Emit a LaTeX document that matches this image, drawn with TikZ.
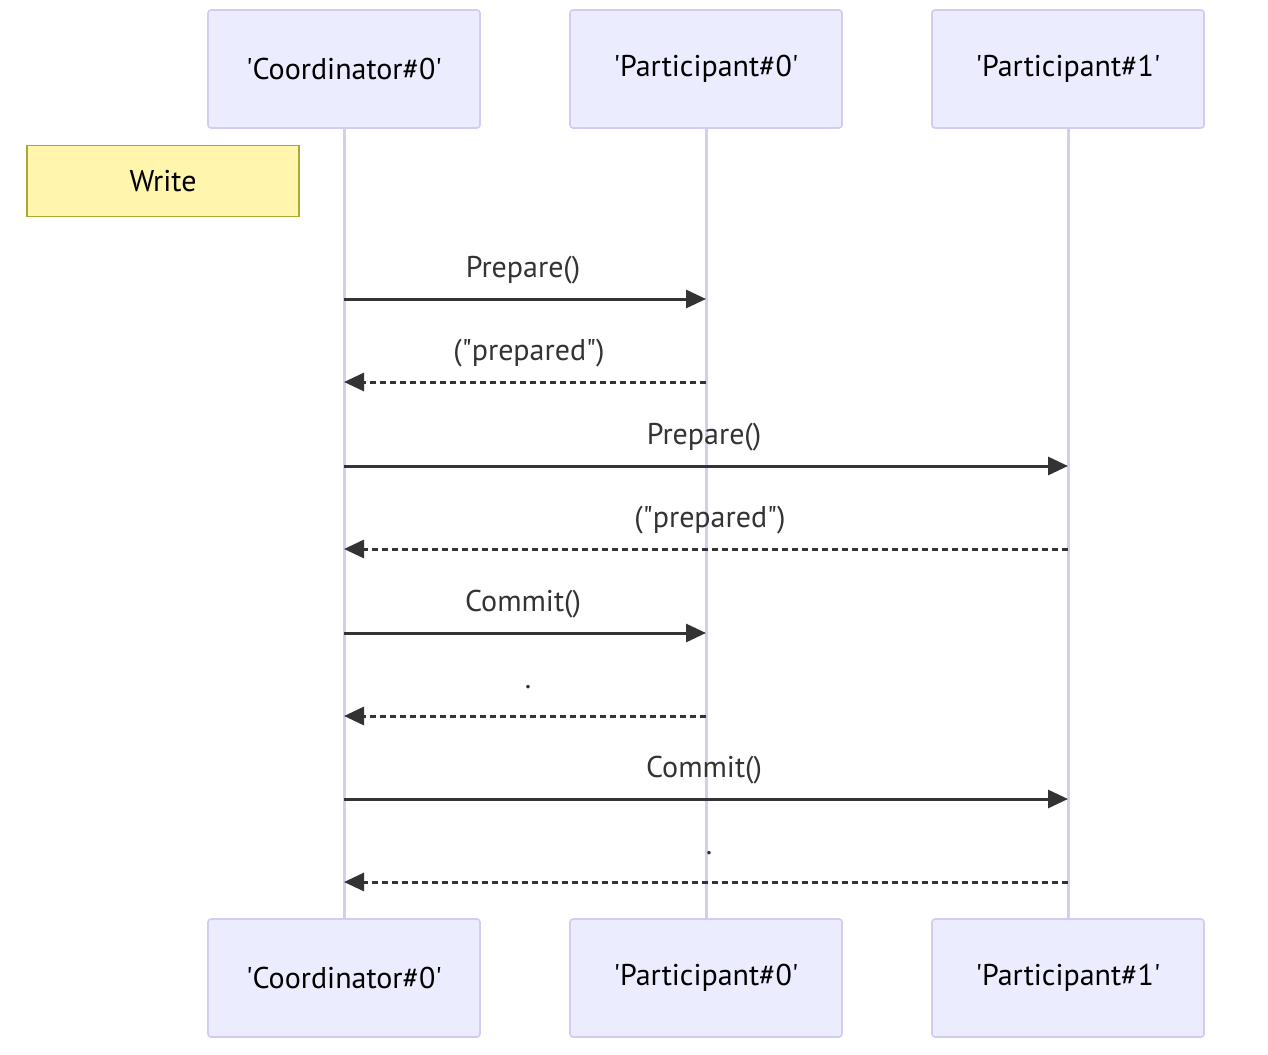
\documentclass[tikz,border=0pt]{standalone}
\usepackage{fontspec}
\setmainfont{PT Sans}
\usetikzlibrary{arrows.meta}
\definecolor{actorfill}{HTML}{ECECFF}
\definecolor{actorline}{HTML}{D3CBF0}
\definecolor{lifeline}{HTML}{D6CCF2}
\definecolor{notefill}{HTML}{FFF5AD}
\definecolor{noteline}{HTML}{AAAA33}
\definecolor{msgcol}{HTML}{333333}
\newcommand{\sq}{\textquotesingle}
\newcommand{\dq}{\textquotedbl}
\begin{document}
\begin{tikzpicture}[x=1pt,y=-1pt,
  txt/.style={font=\fontsize{30}{36}\selectfont},
  actor/.style={txt,draw=actorline,line width=1.6pt,fill=actorfill,rounded corners=3pt,
    minimum width=272pt,minimum height=118pt,inner sep=0pt},
  note/.style={txt,draw=noteline,line width=1.2pt,fill=notefill,
    minimum width=272pt,minimum height=71pt,inner sep=0pt},
  life/.style={draw=lifeline,line width=3pt},
  msg/.style={draw=msgcol,line width=3pt,-{Triangle[length=20pt,width=18pt]}},
  reply/.style={msg,dash pattern=on 6pt off 4pt},
  lbl/.style={txt,text=msgcol,inner sep=0pt}]
\useasboundingbox (0,0) rectangle (1268,1054);
% actors, top and bottom
\node[actor] (c0t) at (344,69) {\sq Coordinator\#0\sq};
\node[actor] (p0t) at (706,69) {\sq Participant\#0\sq};
\node[actor] (p1t) at (1068,69) {\sq Participant\#1\sq};
\node[actor] (c0b) at (344,978) {\sq Coordinator\#0\sq};
\node[actor] (p0b) at (706,978) {\sq Participant\#0\sq};
\node[actor] (p1b) at (1068,978) {\sq Participant\#1\sq};
% lifelines
\draw[life] (c0t.south) -- (c0b.north);
\draw[life] (p0t.south) -- (p0b.north);
\draw[life] (p1t.south) -- (p1b.north);
% note
\node[note] (w) at (163,181) {Write};
% message anchors on the lifelines
\foreach \n/\y in {1/299,2/382,3/466,4/549,5/633,6/716,7/799,8/882}{
  \coordinate (c\n) at (344,\y);
  \coordinate (p\n) at (706,\y);
  \coordinate (q\n) at (1068,\y);
}
\draw[msg] (c1) -- (p1);
\node[lbl] (l1) at (523,270) {Prepare()};
\draw[reply] (p2) -- (c2);
\node[lbl] (l2) at (529,353) {(\dq prepared\dq)};
\draw[msg] (c3) -- (q3);
\node[lbl] (l3) at (704,437) {Prepare()};
\draw[reply] (q4) -- (c4);
\node[lbl] (l4) at (710,520) {(\dq prepared\dq)};
\draw[msg] (c5) -- (p5);
\node[lbl] (l5) at (523,604) {Commit()};
\draw[reply] (p6) -- (c6);
\node[lbl] (l6) at (528,687) {.};
\draw[msg] (c7) -- (q7);
\node[lbl] (l7) at (704,770) {Commit()};
\draw[reply] (q8) -- (c8);
\node[lbl] (l8) at (709,853) {.};
\end{tikzpicture}
\end{document}
